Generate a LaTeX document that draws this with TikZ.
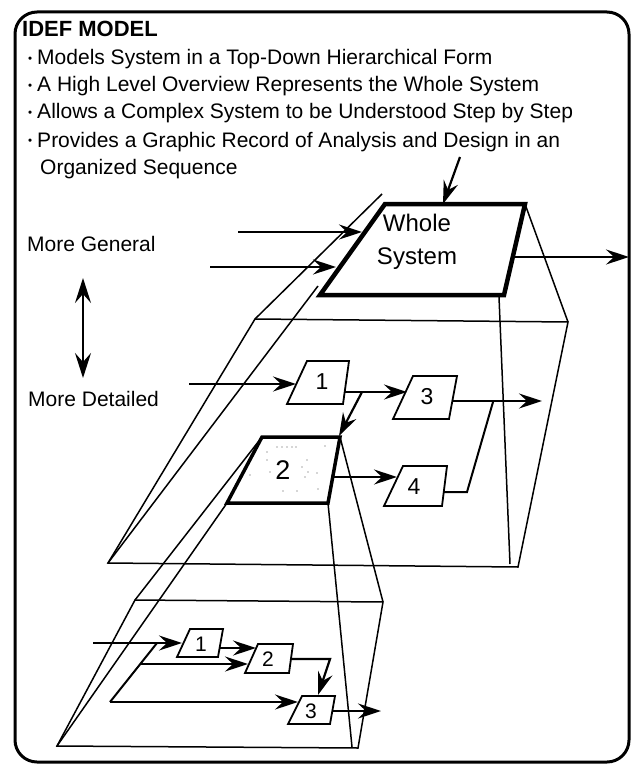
\documentclass[tikz,border=0pt]{standalone}
\usepackage{fontspec}
\setmainfont{Liberation Sans}
\usetikzlibrary{arrows.meta}
\begin{document}
\begin{tikzpicture}[x=1pt,y=-1pt,
  slabline/.style={line width=1.5pt, line join=miter},
  boxline/.style={line width=1.8pt, line join=miter},
  wholebox/.style={line width=4.5pt, line join=miter},
  keybox/.style={line width=3.5pt, line join=miter},
  flow/.style={line width=2.2pt, -{Stealth[length=23pt,width=15pt,inset=8pt]}},
  flowline/.style={line width=2pt},
  txt/.style={anchor=base west, inner sep=0pt, font=\fontsize{21}{25}\selectfont},
  lbl/.style={inner sep=0pt, font=\fontsize{23}{25}\selectfont},
  smalllbl/.style={inner sep=0pt, font=\fontsize{21}{25}\selectfont},
  speck/.style={fill=black!70, draw=none},
]
\useasboundingbox (0,0) rectangle (631,765);
% frame
\draw[line width=3pt, rounded corners=22pt] (15,12) rectangle (629,762);

% text
\newcommand{\mybul}{\raisebox{2.5pt}{\scalebox{0.55}{•}}\hspace{5pt}}
\node[anchor=base west, inner sep=0pt, font=\bfseries\fontsize{22}{26}\selectfont] (title) at (22,37) {IDEF MODEL};
\node[txt] (l1) at (28,65) {\mybul Models System in a Top-Down Hierarchical Form};
\node[txt] (l2) at (28,92) {\mybul A High Level Overview Represents the Whole System};
\node[txt] (l3) at (28,119) {\mybul Allows a Complex System to be Understood Step by Step};
\node[txt] (l4) at (28,147) {\mybul Provides a Graphic Record of Analysis and Design in an};
\node[txt] (l5) at (40,174) {Organized Sequence};
\node[txt] (gen) at (27,251) {More General};
\node[txt] (det) at (28,406) {More Detailed};
\coordinate (da) at (83,278);
\coordinate (db) at (83,378);
\draw[line width=2.2pt, {Stealth[length=25pt,width=16pt,inset=9pt]}-{Stealth[length=25pt,width=16pt,inset=9pt]}] (da) -- (db);

% ---------- corners ----------
\coordinate (W1) at (385,204); \coordinate (W2) at (525,204);
\coordinate (W3) at (504,295); \coordinate (W4) at (320,295);
\coordinate (wa) at (382,194); \coordinate (wb) at (318,286);
\coordinate (wc) at (499,297); \coordinate (wd) at (510,564);
\coordinate (M1) at (255,319); \coordinate (M2) at (568,322);
\coordinate (M3) at (518,567); \coordinate (M4) at (108,563);
\coordinate (K1) at (262,437); \coordinate (K2) at (340,437);
\coordinate (K3) at (328,503); \coordinate (K4) at (227,503);
\coordinate (kd) at (352,747);
\coordinate (B1) at (135,600); \coordinate (B2) at (383,602);
\coordinate (B3) at (358,748); \coordinate (B4) at (57,746);

% slabs and projection lines
\draw[slabline] (M1) -- (M2) -- (M3) -- (M4) -- cycle;
\draw[slabline] (B1) -- (B2) -- (B3) -- (B4) -- cycle;
\draw[slabline] (wa) -- (M1);
\draw[slabline] (wb) -- (M4);
\draw[slabline] (W2) -- (M2);
\draw[slabline] (wc) -- (wd);
\draw[slabline] (K1) -- (B1);
\draw[slabline] (K4) -- (B4);
\draw[slabline] (K2) -- (B2);
\draw[slabline] (K3) -- (kd);

% whole system
\draw[wholebox, fill=white] (W1) -- (W2) -- (W3) -- (W4) -- cycle;
\node[inner sep=0pt, align=center, font=\fontsize{24}{33}\selectfont] (whole) at (417,242) {Whole\\System};
\coordinate (ta) at (460,157); \coordinate (tb) at (443,204);
\coordinate (ia) at (238,232); \coordinate (ib) at (362,232);
\coordinate (ja) at (210,267); \coordinate (jb) at (336,267);
\coordinate (oa) at (513,257); \coordinate (ob) at (629,257);
\draw[flow] (ta) -- (tb);
\draw[flow] (ia) -- (ib);
\draw[flow] (ja) -- (jb);
\draw[flow] (oa) -- (ob);

% middle level boxes
\draw[boxline, fill=white] (307,361) -- (349,361) -- (343,404) -- (287,404) -- cycle;
\node[lbl] (n1) at (322,382) {1};
\draw[boxline, fill=white] (413,376) -- (457,376) -- (449,419) -- (393,419) -- cycle;
\node[lbl] (n3) at (427,397) {3};
\draw[boxline, fill=white] (403,466) -- (447,466) -- (442,506) -- (384,506) -- cycle;
\node[lbl] (n4) at (414,487) {4};
\draw[keybox] (K1) -- (K2) -- (K3) -- (K4) -- cycle;
\node[inner sep=0pt, font=\fontsize{27}{29}\selectfont] (n2) at (283,470) {2};
\foreach \p in {(267,452),(277,447),(282,447),(287,447),(292,447),(296,447),(325,446),(267,460),(270,472),(250,475),(302,467),(308,472),(317,473),(305,477),(283,491),(297,491),(318,489),(307,460)}
  \fill[speck] \p circle (0.7pt);

% middle level arrows
\coordinate (m1a) at (189,384); \coordinate (m1b) at (296,384);
\coordinate (m13a) at (345,392); \coordinate (m13b) at (407,392);
\coordinate (m12a) at (362,392); \coordinate (m12b) at (339,436);
\coordinate (m3a) at (453,401); \coordinate (m3b) at (542,401);
\coordinate (m24a) at (334,477); \coordinate (m24b) at (397,477);
\coordinate (m4a) at (444,492); \coordinate (m4b) at (467,492); \coordinate (m4c) at (493,402);
\draw[flow] (m1a) -- (m1b);
\draw[flow] (m13a) -- (m13b);
\draw[flow] (m12a) -- (m12b);
\draw[flow] (m3a) -- (m3b);
\draw[flow] (m24a) -- (m24b);
\draw[flowline] (m4a) -- (m4b) -- (m4c);

% bottom level boxes
\draw[boxline, fill=white] (190,629) -- (223,629) -- (218,657) -- (177,657) -- cycle;
\node[smalllbl] (p1) at (201,644) {1};
\draw[boxline, fill=white] (258,644) -- (293,644) -- (289,673) -- (245,673) -- cycle;
\node[smalllbl] (p2) at (268,659) {2};
\draw[boxline, fill=white] (302,696) -- (335,696) -- (330,724) -- (288,724) -- cycle;
\node[smalllbl] (p3) at (311,711) {3};

% bottom level arrows
\coordinate (q1a) at (93,643); \coordinate (q1b) at (182,643);
\coordinate (qs) at (157,643); \coordinate (qe) at (110,702);
\coordinate (q2a) at (140,664); \coordinate (q2b) at (248,664);
\coordinate (q3b) at (298,702);
\coordinate (q12a) at (220,648); \coordinate (q12b) at (256,648);
\coordinate (q23a) at (291,659); \coordinate (q23b) at (330,659); \coordinate (q23c) at (318,695);
\coordinate (q4a) at (333,711); \coordinate (q4b) at (381,711);
\draw[flow] (q1a) -- (q1b);
\draw[flowline] (qs) -- (qe);
\draw[flow] (q2a) -- (q2b);
\draw[flow] (qe) -- (q3b);
\draw[flow] (q12a) -- (q12b);
\draw[flow] (q23a) -- (q23b) -- (q23c);
\draw[flow] (q4a) -- (q4b);
\end{tikzpicture}
\end{document}
